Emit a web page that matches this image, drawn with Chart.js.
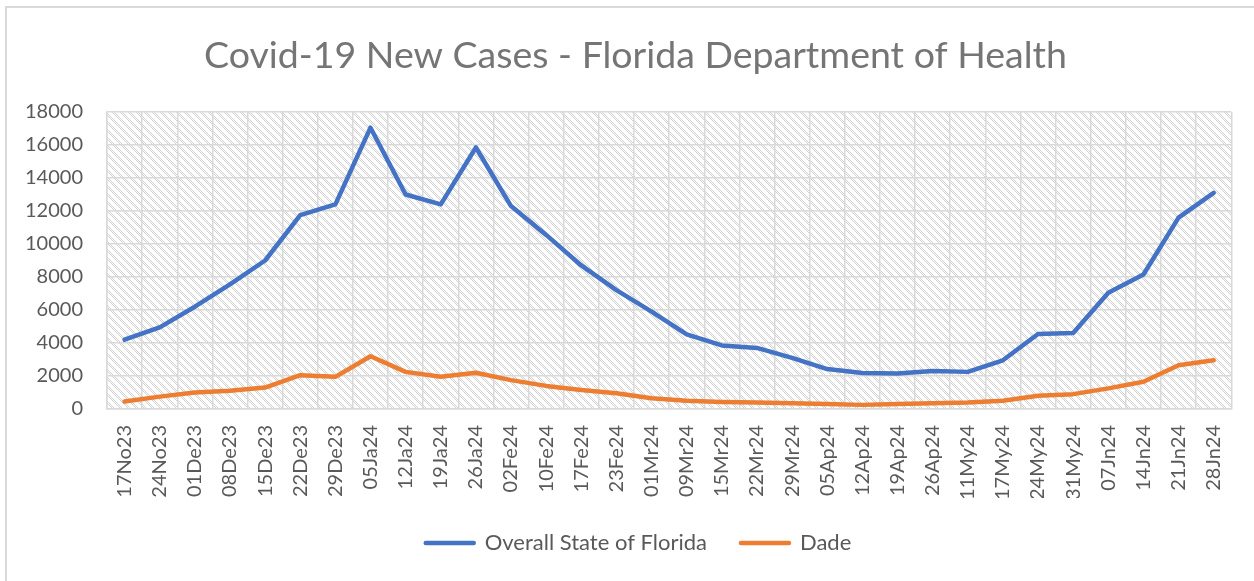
<!DOCTYPE html>
<html>
<head>
<meta charset="utf-8">
<script src="https://cdn.jsdelivr.net/npm/chart.js@4.4.1/dist/chart.umd.min.js"></script>
<style>
  html, body { margin: 0; padding: 0; background: #fff; }
  #wrap { width: 1254px; height: 581px; position: relative; }
</style>
</head>
<body>
<div id="wrap"><canvas id="c" width="1254" height="581"></canvas></div>
<script>
const categories = ["17No23","24No23","01De23","08De23","15De23","22De23","29De23","05Ja24","12Ja24","19Ja24","26Ja24","02Fe24","10Fe24","17Fe24","23Fe24","01Mr24","09Mr24","15Mr24","22Mr24","29Mr24","05Ap24","12Ap24","19Ap24","26Ap24","11My24","17My24","24My24","31My24","07Jn24","14Jn24","21Jn24","28Jn24"];
const floridaValues = [4200,4950,6200,7550,9000,11750,12400,17050,13000,12400,15850,12300,10550,8700,7200,5900,4520,3850,3700,3100,2420,2180,2150,2300,2250,2950,4550,4600,7050,8150,11600,13100];
const dadeValues = [450,750,1000,1100,1300,2050,1950,3200,2250,1950,2200,1750,1400,1150,950,650,500,430,400,350,300,250,300,350,400,500,800,900,1250,1650,2650,2950];
const seriesNames = ["Overall State of Florida","Dade"];
const titleText = "Covid-19 New Cases - Florida Department of Health";

const FONT = "Lato, 'Open Sans', sans-serif";

function makePattern(ctx) {
  const t = document.createElement('canvas');
  t.width = 8; t.height = 8;
  const tc = t.getContext('2d');
  tc.fillStyle = '#ffffff';
  tc.fillRect(0, 0, 8, 8);
  tc.fillStyle = '#d2d2d2';
  for (let y = 0; y < 8; y++) {
    for (let x = 0; x < 8; x++) {
      if (((x - y + 16) % 8) < 4 && ((x + y) % 2 === 0)) tc.fillRect(x, y, 1, 1);
    }
  }
  return ctx.createPattern(t, 'repeat');
}

const bgPlugin = {
  id: 'bgPlugin',
  afterLayout(chart) {
    // the original chart frame is wider than the visible picture: shift centred blocks
    if (chart.legend) { chart.legend.left += 11; chart.legend.right += 11; }
    if (chart.titleBlock) { chart.titleBlock.left += 8; chart.titleBlock.right += 8; }
  },
  beforeDraw(chart) {
    const ctx = chart.ctx;
    const a = chart.chartArea;
    ctx.save();
    ctx.fillStyle = '#ffffff';
    ctx.fillRect(0, 0, chart.width, chart.height);
    ctx.strokeStyle = '#d9d9d9';
    ctx.lineWidth = 2;
    ctx.strokeRect(6, 7, chart.width + 20, chart.height + 20);
    ctx.fillStyle = makePattern(ctx);
    ctx.fillRect(a.left, a.top, a.right - a.left, a.bottom - a.top);
    ctx.restore();
  }
};

new Chart(document.getElementById('c'), {
  type: 'line',
  data: {
    labels: categories,
    datasets: [
      { label: seriesNames[0], data: floridaValues, borderColor: '#4472C4', backgroundColor: '#4472C4',
        borderWidth: 4.5, pointRadius: 0, borderJoinStyle: 'round', borderCapStyle: 'round', tension: 0, fill: false },
      { label: seriesNames[1], data: dadeValues, borderColor: '#ED7D31', backgroundColor: '#ED7D31',
        borderWidth: 4.5, pointRadius: 0, borderJoinStyle: 'round', borderCapStyle: 'round', tension: 0, fill: false }
    ]
  },
  options: {
    responsive: false,
    animation: false,
    devicePixelRatio: 1,
    layout: { padding: { left: 20, right: 19, top: 0, bottom: 17 } },
    plugins: {
      title: { display: true, text: titleText, color: '#757575',
        font: { family: FONT, size: 37.5, weight: 'normal' }, padding: { top: 33, bottom: 34 } },
      legend: { display: true, position: 'bottom',
        labels: { color: '#595959', font: { family: FONT, size: 22 }, boxWidth: 48, boxHeight: 0.001, padding: 34 } },
      tooltip: { enabled: false }
    },
    scales: {
      x: {
        offset: true,
        grid: { display: true, offset: true, color: '#d9d9d9', lineWidth: 1.5, drawTicks: false },
        border: { display: true, color: '#d9d9d9', width: 1.5 },
        ticks: { color: '#595959', font: { family: FONT, size: 20 }, maxRotation: 90, minRotation: 90, autoSkip: false, padding: 16 },
        afterFit(s) { s.height = 89; }
      },
      y: {
        min: 0, max: 18000,
        grid: { color: '#d9d9d9', lineWidth: 1.5, drawTicks: false },
        border: { display: true, color: '#d9d9d9', width: 1.5 },
        ticks: { stepSize: 2000, color: '#595959', font: { family: FONT, size: 20 }, padding: 24,
          callback: (v) => String(v) },
        afterFit(s) { s.width = 87; }
      }
    }
  },
  plugins: [bgPlugin]
});
</script>
</body>
</html>
